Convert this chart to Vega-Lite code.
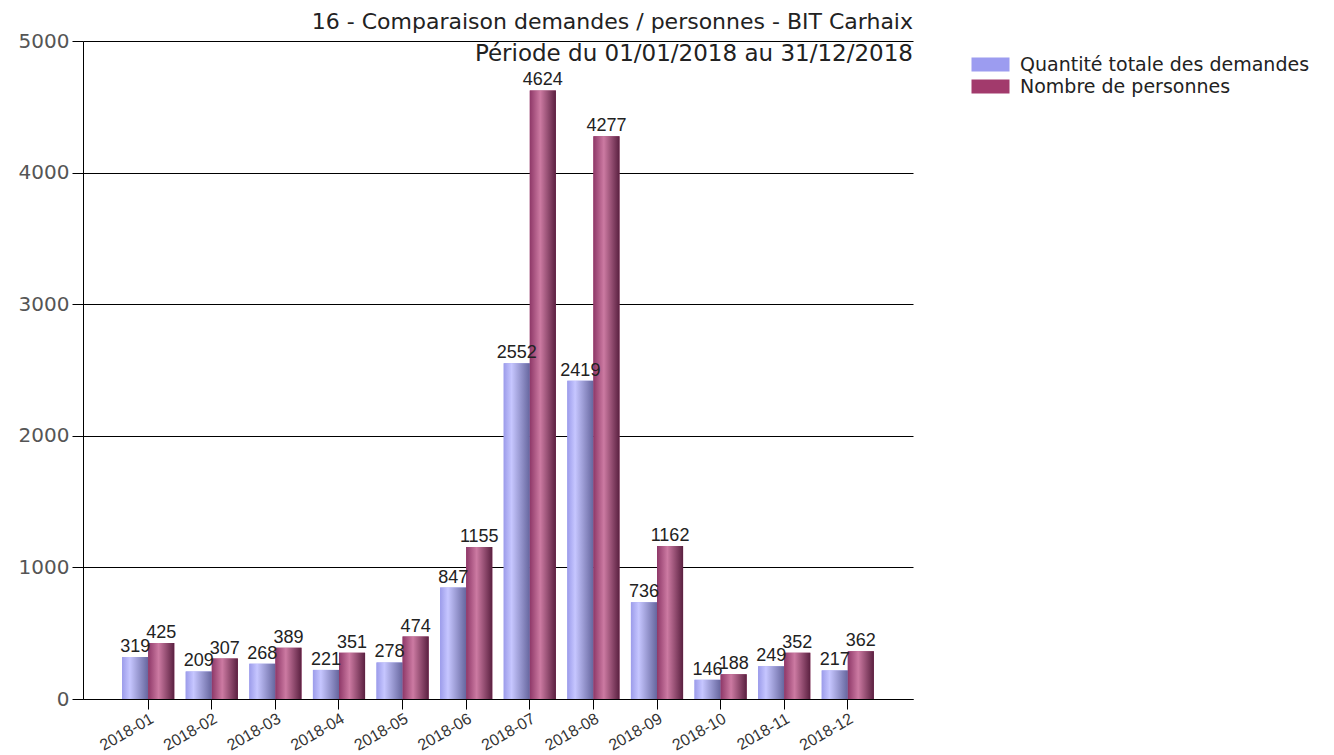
{
  "$schema": "https://vega.github.io/schema/vega-lite/v6.json",
  "width": 830,
  "height": 658,
  "autosize": {"type": "none"},
  "padding": {"left": 83, "top": 41, "right": 421, "bottom": 56},
  "background": "white",
  "config": {"view": {"stroke": null}},
  "title": {
    "text": "16 - Comparaison demandes / personnes - BIT Carhaix",
    "subtitle": "Période du 01/01/2018 au 31/12/2018",
    "anchor": "end",
    "frame": "group",
    "font": "DejaVu Sans",
    "fontSize": 22,
    "fontWeight": "normal",
    "color": "#222222",
    "subtitleFont": "DejaVu Sans",
    "subtitleFontSize": 23,
    "subtitleColor": "#222222",
    "subtitlePadding": 9,
    "offset": -36
  },
  "data": {
    "values": [
      {"mois": "2018-01", "serie": "Quantité totale des demandes", "valeur": 319},
      {"mois": "2018-02", "serie": "Quantité totale des demandes", "valeur": 209},
      {"mois": "2018-03", "serie": "Quantité totale des demandes", "valeur": 268},
      {"mois": "2018-04", "serie": "Quantité totale des demandes", "valeur": 221},
      {"mois": "2018-05", "serie": "Quantité totale des demandes", "valeur": 278},
      {"mois": "2018-06", "serie": "Quantité totale des demandes", "valeur": 847},
      {"mois": "2018-07", "serie": "Quantité totale des demandes", "valeur": 2552},
      {"mois": "2018-08", "serie": "Quantité totale des demandes", "valeur": 2419},
      {"mois": "2018-09", "serie": "Quantité totale des demandes", "valeur": 736},
      {"mois": "2018-10", "serie": "Quantité totale des demandes", "valeur": 146},
      {"mois": "2018-11", "serie": "Quantité totale des demandes", "valeur": 249},
      {"mois": "2018-12", "serie": "Quantité totale des demandes", "valeur": 217},
      {"mois": "2018-01", "serie": "Nombre de personnes", "valeur": 425},
      {"mois": "2018-02", "serie": "Nombre de personnes", "valeur": 307},
      {"mois": "2018-03", "serie": "Nombre de personnes", "valeur": 389},
      {"mois": "2018-04", "serie": "Nombre de personnes", "valeur": 351},
      {"mois": "2018-05", "serie": "Nombre de personnes", "valeur": 474},
      {"mois": "2018-06", "serie": "Nombre de personnes", "valeur": 1155},
      {"mois": "2018-07", "serie": "Nombre de personnes", "valeur": 4624},
      {"mois": "2018-08", "serie": "Nombre de personnes", "valeur": 4277},
      {"mois": "2018-09", "serie": "Nombre de personnes", "valeur": 1162},
      {"mois": "2018-10", "serie": "Nombre de personnes", "valeur": 188},
      {"mois": "2018-11", "serie": "Nombre de personnes", "valeur": 352},
      {"mois": "2018-12", "serie": "Nombre de personnes", "valeur": 362}
    ]
  },
  "encoding": {
    "x": {
      "field": "mois",
      "type": "nominal",
      "scale": {"paddingInner": 0.18, "paddingOuter": 0.615},
      "axis": {
        "title": null,
        "labelAngle": -30,
        "labelFont": "Liberation Sans",
        "labelFontSize": 16,
        "labelColor": "#333333",
        "labelPadding": 1,
        "tickSize": 10,
        "tickColor": "#000000",
        "domainColor": "#000000",
        "grid": false
      }
    },
    "xOffset": {
      "field": "serie",
      "type": "nominal",
      "scale": {"domain": ["Quantité totale des demandes", "Nombre de personnes"]}
    },
    "y": {
      "field": "valeur",
      "type": "quantitative",
      "scale": {"domain": [0, 5000], "nice": false},
      "axis": {
        "title": null,
        "values": [0, 1000, 2000, 3000, 4000, 5000],
        "format": "d",
        "grid": true,
        "gridColor": "#000000",
        "gridOpacity": 1,
        "domainColor": "#000000",
        "tickColor": "#000000",
        "tickSize": 11,
        "labelFont": "DejaVu Sans",
        "labelFontSize": 20,
        "labelColor": "#555555",
        "labelPadding": 3
      }
    }
  },
  "layer": [
    {
      "mark": {"type": "bar"},
      "encoding": {
        "color": {
          "field": "serie",
          "type": "nominal",
          "scale": {
            "domain": ["Quantité totale des demandes", "Nombre de personnes"],
            "range": ["#9c9cf0", "#a23a6c"]
          },
          "legend": {
            "title": null,
            "orient": "none",
            "legendX": 898,
            "legendY": 14,
            "padding": 0,
            "symbolType": "M-3.8,-1.4H3.8V1.4H-3.8Z",
            "symbolSize": 100,
            "symbolStrokeWidth": 0,
            "labelFont": "DejaVu Sans",
            "labelFontSize": 19,
            "labelColor": "#222222",
            "labelOffset": 20,
            "rowPadding": 2,
            "labelLimit": 400
          }
        }
      }
    },
    {
      "transform": [{"filter": "datum.serie === 'Quantité totale des demandes'"}],
      "mark": {
        "type": "bar",
        "fill": {
          "gradient": "linear",
          "x1": 0, "x2": 1, "y1": 0, "y2": 0,
          "stops": [
            {"offset": 0, "color": "#9c9cea"},
            {"offset": 0.3, "color": "#c6c6ff"},
            {"offset": 1, "color": "#66669e"}
          ]
        }
      }
    },
    {
      "transform": [{"filter": "datum.serie === 'Nombre de personnes'"}],
      "mark": {
        "type": "bar",
        "fill": {
          "gradient": "linear",
          "x1": 0, "x2": 1, "y1": 0, "y2": 0,
          "stops": [
            {"offset": 0, "color": "#8e3868"},
            {"offset": 0.4, "color": "#cc7aa2"},
            {"offset": 1, "color": "#5a2040"}
          ]
        }
      }
    },
    {
      "mark": {
        "type": "text",
        "dy": -10,
        "font": "Liberation Sans",
        "fontSize": 18,
        "color": "#222222"
      },
      "encoding": {
        "text": {"field": "valeur", "type": "quantitative"}
      }
    }
  ]
}
